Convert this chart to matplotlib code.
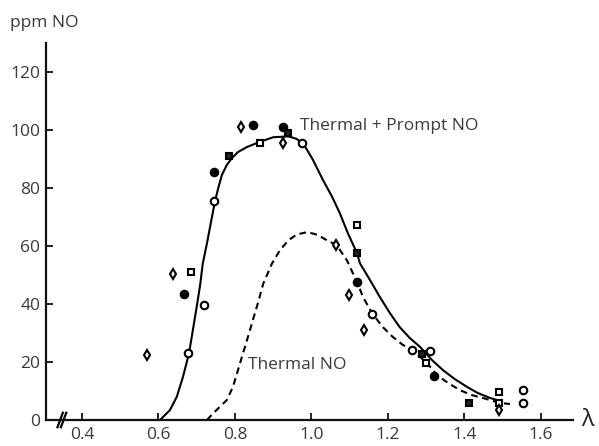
import matplotlib
matplotlib.use("Agg")
import matplotlib.pyplot as plt

# ---- data ----
solid_lam = [0.604, 0.630, 0.648, 0.664, 0.680, 0.690, 0.700, 0.709, 0.716, 0.727,
             0.735, 0.748, 0.757, 0.766, 0.779, 0.792, 0.808, 0.831, 0.865, 0.900,
             0.940, 0.960, 0.978, 1.004, 1.030, 1.054, 1.074, 1.095, 1.119, 1.127,
             1.153, 1.179, 1.205, 1.231, 1.257, 1.284, 1.315, 1.344, 1.375, 1.407,
             1.435, 1.467, 1.485]
solid_ppm = [0.0, 3.4, 8.0, 14.8, 23.0, 31.0, 39.0, 46.5, 54.0, 61.0,
             66.6, 75.5, 80.3, 84.5, 88.0, 90.3, 92.4, 94.1, 95.9, 97.5,
             97.8, 97.0, 95.5, 89.7, 82.8, 77.0, 71.4, 64.5, 57.6, 54.0,
             48.3, 42.4, 36.9, 32.0, 28.3, 25.2, 20.7, 17.2, 14.1, 11.4,
             9.3, 7.6, 6.9]

dash_lam = [0.727, 0.743, 0.779, 0.795, 0.808, 0.821, 0.834, 0.847, 0.861, 0.874,
            0.897, 0.918, 0.940, 0.962, 0.990, 1.017, 1.040, 1.066, 1.093, 1.119,
            1.135, 1.158, 1.187, 1.213, 1.239, 1.263, 1.302, 1.328, 1.357, 1.388,
            1.419, 1.448, 1.493, 1.519]
dash_ppm = [0.0, 2.3, 6.9, 11.5, 17.2, 23.0, 28.6, 34.5, 40.7, 47.0,
            54.0, 58.6, 62.0, 64.0, 64.8, 63.8, 62.0, 60.3, 55.0, 47.6,
            42.4, 36.9, 32.0, 28.6, 25.9, 24.1, 19.7, 15.5, 12.8, 10.3,
            8.6, 7.6, 5.9, 5.5]

open_circle_lam = [0.677, 0.719, 0.745, 0.975, 1.158, 1.263, 1.310, 1.553, 1.553]
open_circle_ppm = [23.1, 39.7, 75.5, 95.5, 36.5, 24.0, 23.8, 10.3, 5.9]

filled_circle_lam = [0.667, 0.745, 0.847, 0.925, 1.120, 1.320]
filled_circle_ppm = [43.4, 85.5, 101.7, 101.0, 47.6, 15.2]

open_square_lam = [0.685, 0.865, 1.119, 1.300, 1.490, 1.490]
open_square_ppm = [51.0, 95.5, 67.2, 19.6, 9.7, 5.9]

filled_square_lam = [0.784, 0.940, 1.119, 1.289, 1.412]
filled_square_ppm = [91.0, 99.0, 57.6, 22.8, 5.9]

open_diamond_lam = [0.570, 0.638, 0.816, 0.925, 1.064, 1.098, 1.137, 1.490]
open_diamond_ppm = [22.4, 50.3, 101.0, 95.5, 60.3, 43.1, 31.0, 3.4]

x_ticks = [0.4, 0.6, 0.8, 1.0, 1.2, 1.4, 1.6]
x_ticklabels = ["0.4", "0.6", "0.8", "1.0", "1.2", "1.4", "1.6"]
y_ticks = [0, 20, 40, 60, 80, 100, 120]
y_ticklabels = ["0", "20", "40", "60", "80", "100", "120"]

# ---- figure ----
plt.rcParams['font.family'] = ['Open Sans', 'DejaVu Sans']
txt = '#3a3a3a'

fig = plt.figure(figsize=(5.99, 4.46), dpi=100)
ax = fig.add_axes([0.0768, 0.0583, 0.8798, 0.8453])

ax.plot(solid_lam, solid_ppm, color='black', lw=1.5, zorder=2,
        solid_joinstyle='round', solid_capstyle='round')
ax.plot(dash_lam, dash_ppm, color='black', lw=1.5, linestyle=(0, (3.2, 2.2)), zorder=2)

ms = 5.4
mew = 1.5
ax.plot(open_circle_lam, open_circle_ppm, 'o', ms=ms, mfc='white', mec='black', mew=mew, zorder=3)
ax.plot(filled_circle_lam, filled_circle_ppm, 'o', ms=ms, mfc='black', mec='black', mew=mew, zorder=3)
ax.plot(open_square_lam, open_square_ppm, 's', ms=ms - 0.4, mfc='white', mec='black', mew=mew, zorder=3)
ax.plot(filled_square_lam, filled_square_ppm, 's', ms=ms - 0.4, mfc='#222222', mec='black', mew=mew, zorder=3)
ax.plot(open_diamond_lam, open_diamond_ppm, 'd', ms=ms, mfc='white', mec='black', mew=mew, zorder=3)

ax.set_xlim(0.306, 1.684)
ax.set_ylim(0, 130)

for s in ['top', 'right']:
    ax.spines[s].set_visible(False)
for s in ['left', 'bottom']:
    ax.spines[s].set_linewidth(1.6)
    ax.spines[s].set_color('#111111')

ax.set_xticks(x_ticks)
ax.set_xticklabels(x_ticklabels)
ax.set_yticks(y_ticks)
ax.set_yticklabels(y_ticklabels)
ax.tick_params(direction='in', length=5, width=1.3, colors='#111111',
               labelcolor=txt, labelsize=12.5, pad=4)
ax.tick_params(axis='x', pad=5)

# axis break mark
ax.plot([0.336, 0.350], [-2.5, 2.5], color='black', lw=1.6, clip_on=False, zorder=5)
ax.plot([0.345, 0.359], [-2.5, 2.5], color='black', lw=1.6, clip_on=False, zorder=5)

fig.text(0.017, 0.949, "ppm NO", fontsize=12.5, color=txt, ha='left', va='center')
ax.text(1.705, 0, "λ", fontsize=17, color='#222222', ha='left', va='center',
        clip_on=False)
ax.text(0.97, 101.5, "Thermal + Prompt NO", fontsize=12.5, color=txt, ha='left', va='center')
ax.text(0.835, 19, "Thermal NO", fontsize=12.5, color=txt, ha='left', va='center')

fig.savefig("out.png", dpi=100)
